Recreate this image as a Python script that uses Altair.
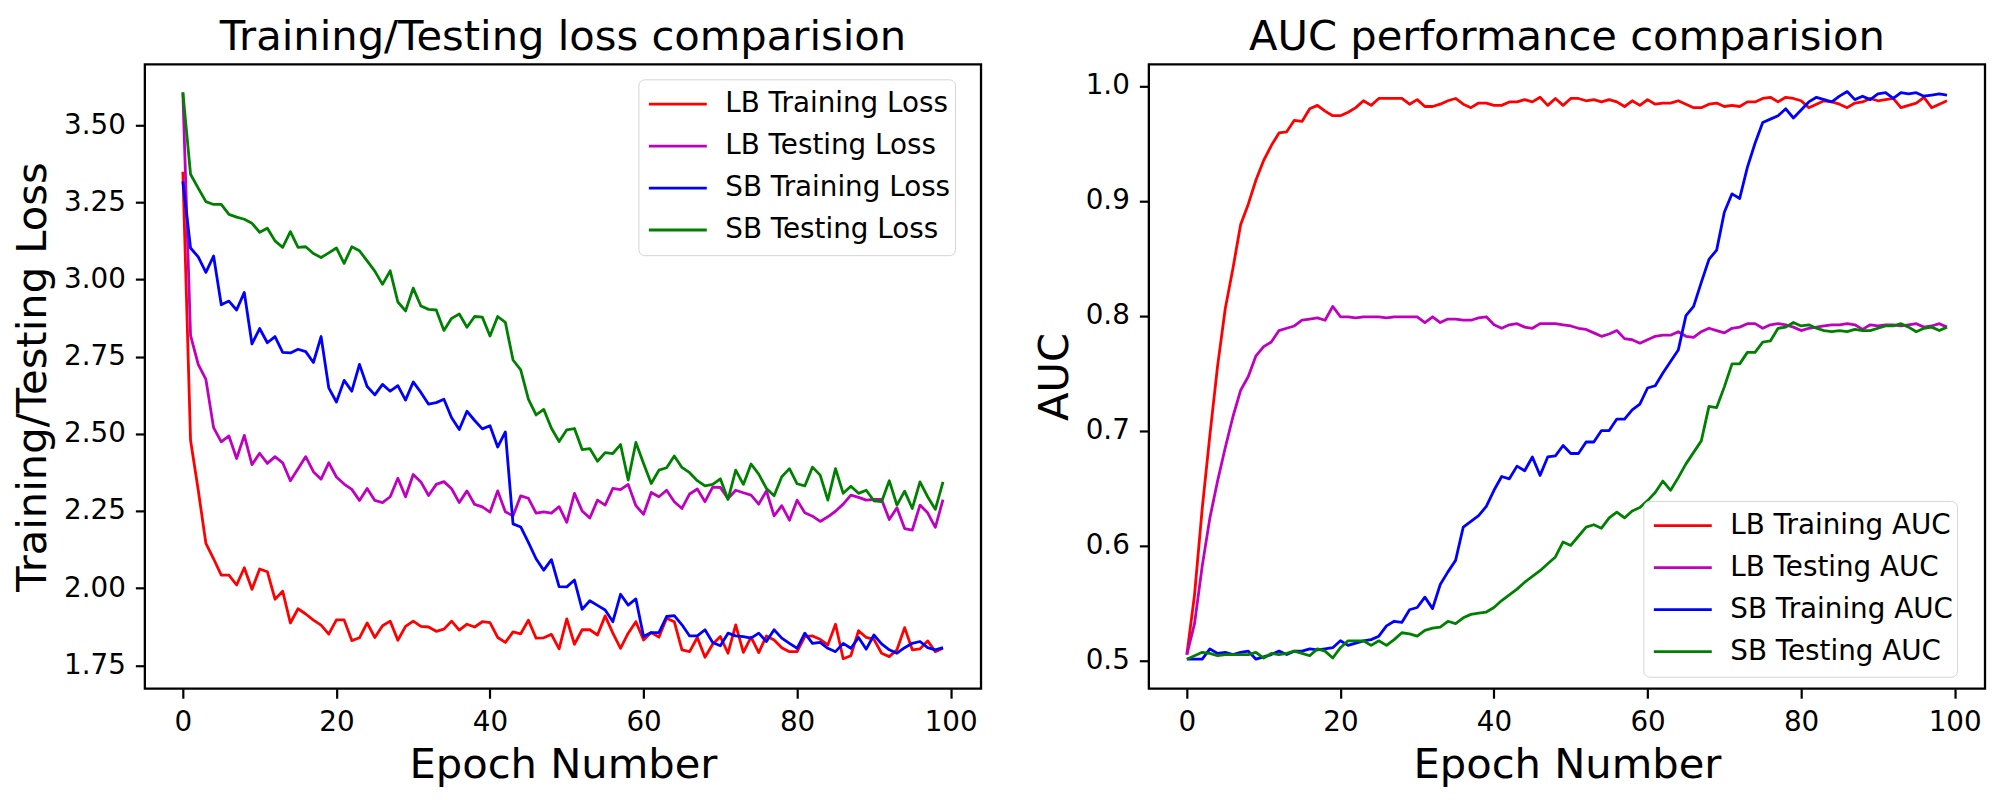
import altair as alt
import pandas as pd

FONT = "DejaVu Sans"

epochs = list(range(100))

loss_names = ["LB Training Loss", "LB Testing Loss", "SB Training Loss", "SB Testing Loss"]
auc_names = ["LB Training AUC", "LB Testing AUC", "SB Training AUC", "SB Testing AUC"]
line_colors = ["#ff0000", "#bf00bf", "#0000ff", "#008000"]

lb_train_loss = [3.349, 2.479, 2.318, 2.145, 2.095, 2.042, 2.042, 2.010, 2.066, 1.996,
                 2.062, 2.053, 1.964, 1.990, 1.887, 1.933, 1.916, 1.896, 1.880, 1.851,
                 1.897, 1.897, 1.830, 1.839, 1.887, 1.840, 1.878, 1.893, 1.831, 1.876,
                 1.893, 1.876, 1.874, 1.860, 1.867, 1.893, 1.864, 1.883, 1.874, 1.891,
                 1.888, 1.840, 1.824, 1.858, 1.852, 1.896, 1.838, 1.839, 1.850, 1.803,
                 1.900, 1.818, 1.865, 1.865, 1.848, 1.910, 1.854, 1.805, 1.854, 1.891,
                 1.832, 1.856, 1.841, 1.902, 1.891, 1.800, 1.794, 1.840, 1.776, 1.818,
                 1.843, 1.789, 1.881, 1.792, 1.841, 1.791, 1.845, 1.832, 1.807, 1.794,
                 1.794, 1.843, 1.845, 1.834, 1.816, 1.883, 1.771, 1.781, 1.862, 1.840,
                 1.834, 1.789, 1.778, 1.800, 1.872, 1.800, 1.803, 1.829, 1.794, 1.805]

lb_test_loss = [3.606, 2.819, 2.725, 2.676, 2.520, 2.474, 2.493, 2.420, 2.495, 2.400,
                2.437, 2.404, 2.426, 2.406, 2.348, 2.387, 2.426, 2.377, 2.353, 2.406,
                2.360, 2.337, 2.320, 2.284, 2.323, 2.284, 2.277, 2.296, 2.356, 2.296,
                2.368, 2.344, 2.300, 2.336, 2.345, 2.322, 2.277, 2.315, 2.271, 2.263,
                2.246, 2.315, 2.247, 2.234, 2.299, 2.291, 2.243, 2.247, 2.243, 2.264,
                2.213, 2.307, 2.250, 2.227, 2.285, 2.269, 2.323, 2.319, 2.336, 2.267,
                2.239, 2.310, 2.296, 2.317, 2.280, 2.258, 2.305, 2.321, 2.280, 2.327,
                2.326, 2.290, 2.317, 2.309, 2.301, 2.272, 2.315, 2.234, 2.267, 2.220,
                2.285, 2.244, 2.233, 2.216, 2.231, 2.249, 2.272, 2.301, 2.294, 2.285,
                2.287, 2.287, 2.222, 2.260, 2.193, 2.188, 2.269, 2.244, 2.197, 2.287]

sb_train_loss = [3.318, 3.102, 3.073, 3.023, 3.076, 2.918, 2.930, 2.901, 2.958, 2.791,
                 2.841, 2.795, 2.815, 2.764, 2.762, 2.774, 2.766, 2.731, 2.815, 2.649,
                 2.603, 2.673, 2.638, 2.725, 2.653, 2.626, 2.660, 2.638, 2.656, 2.609,
                 2.668, 2.634, 2.596, 2.601, 2.612, 2.552, 2.514, 2.573, 2.543, 2.516,
                 2.526, 2.457, 2.506, 2.208, 2.198, 2.148, 2.095, 2.058, 2.092, 2.005,
                 2.004, 2.026, 1.931, 1.959, 1.944, 1.929, 1.891, 1.980, 1.945, 1.965,
                 1.843, 1.856, 1.856, 1.908, 1.911, 1.881, 1.845, 1.845, 1.865, 1.824,
                 1.813, 1.854, 1.845, 1.843, 1.838, 1.854, 1.827, 1.865, 1.838, 1.821,
                 1.805, 1.854, 1.821, 1.824, 1.805, 1.794, 1.821, 1.805, 1.840, 1.802,
                 1.848, 1.819, 1.800, 1.789, 1.807, 1.821, 1.827, 1.807, 1.800, 1.807]

sb_test_loss = [3.606, 3.341, 3.296, 3.252, 3.243, 3.243, 3.211, 3.202, 3.195, 3.182,
                3.153, 3.166, 3.125, 3.104, 3.155, 3.104, 3.106, 3.084, 3.071, 3.086,
                3.102, 3.052, 3.106, 3.093, 3.060, 3.027, 2.984, 3.028, 2.927, 2.898,
                2.972, 2.914, 2.903, 2.901, 2.835, 2.874, 2.888, 2.845, 2.880, 2.878,
                2.817, 2.880, 2.861, 2.739, 2.707, 2.612, 2.561, 2.579, 2.518, 2.475,
                2.513, 2.517, 2.449, 2.452, 2.411, 2.439, 2.436, 2.465, 2.350, 2.472,
                2.404, 2.339, 2.382, 2.390, 2.428, 2.391, 2.374, 2.348, 2.331, 2.336,
                2.354, 2.287, 2.382, 2.336, 2.402, 2.369, 2.323, 2.299, 2.361, 2.387,
                2.338, 2.331, 2.392, 2.366, 2.285, 2.387, 2.307, 2.330, 2.307, 2.317,
                2.283, 2.280, 2.348, 2.269, 2.314, 2.258, 2.344, 2.296, 2.255, 2.344]

lb_train_auc = [0.505, 0.557, 0.632, 0.696, 0.756, 0.806, 0.841, 0.879, 0.897, 0.918,
                0.935, 0.948, 0.959, 0.960, 0.970, 0.969, 0.980, 0.983, 0.978, 0.974,
                0.974, 0.977, 0.981, 0.987, 0.983, 0.989, 0.989, 0.989, 0.989, 0.984,
                0.988, 0.982, 0.982, 0.984, 0.987, 0.989, 0.984, 0.981, 0.985, 0.985,
                0.983, 0.983, 0.986, 0.986, 0.988, 0.986, 0.990, 0.983, 0.989, 0.983,
                0.989, 0.989, 0.987, 0.988, 0.986, 0.988, 0.986, 0.982, 0.987, 0.983,
                0.988, 0.984, 0.985, 0.985, 0.987, 0.984, 0.981, 0.981, 0.984, 0.985,
                0.982, 0.983, 0.982, 0.986, 0.986, 0.989, 0.990, 0.986, 0.990, 0.989,
                0.987, 0.981, 0.984, 0.987, 0.986, 0.984, 0.981, 0.985, 0.986, 0.989,
                0.987, 0.988, 0.989, 0.981, 0.983, 0.985, 0.990, 0.981, 0.984, 0.987]

lb_test_auc = [0.505, 0.532, 0.582, 0.624, 0.656, 0.685, 0.712, 0.735, 0.747, 0.765,
               0.773, 0.777, 0.787, 0.789, 0.791, 0.796, 0.797, 0.798, 0.796, 0.808,
               0.799, 0.799, 0.798, 0.799, 0.799, 0.799, 0.798, 0.799, 0.799, 0.799,
               0.799, 0.794, 0.799, 0.794, 0.797, 0.797, 0.796, 0.796, 0.798, 0.799,
               0.792, 0.789, 0.792, 0.793, 0.790, 0.789, 0.793, 0.793, 0.793, 0.792,
               0.791, 0.789, 0.788, 0.785, 0.782, 0.784, 0.787, 0.780, 0.779, 0.776,
               0.779, 0.782, 0.783, 0.783, 0.786, 0.782, 0.781, 0.786, 0.789, 0.787,
               0.785, 0.789, 0.790, 0.793, 0.793, 0.789, 0.792, 0.793, 0.792, 0.790,
               0.787, 0.789, 0.790, 0.791, 0.792, 0.792, 0.793, 0.792, 0.788, 0.792,
               0.791, 0.792, 0.792, 0.791, 0.792, 0.793, 0.790, 0.791, 0.793, 0.790]

sb_train_auc = [0.501, 0.501, 0.501, 0.510, 0.506, 0.507, 0.505, 0.507, 0.508, 0.501,
                0.503, 0.505, 0.508, 0.505, 0.508, 0.508, 0.510, 0.509, 0.510, 0.511,
                0.517, 0.513, 0.515, 0.517, 0.518, 0.521, 0.530, 0.534, 0.533, 0.544,
                0.546, 0.555, 0.545, 0.566, 0.577, 0.587, 0.616, 0.621, 0.626, 0.634,
                0.648, 0.660, 0.658, 0.669, 0.665, 0.677, 0.661, 0.677, 0.678, 0.687,
                0.680, 0.680, 0.690, 0.690, 0.700, 0.700, 0.710, 0.710, 0.718, 0.723,
                0.737, 0.739, 0.750, 0.760, 0.770, 0.800, 0.808, 0.829, 0.849, 0.857,
                0.890, 0.906, 0.902, 0.929, 0.950, 0.968, 0.971, 0.974, 0.980, 0.972,
                0.979, 0.986, 0.990, 0.988, 0.986, 0.991, 0.995, 0.988, 0.991, 0.988,
                0.993, 0.994, 0.989, 0.994, 0.993, 0.994, 0.991, 0.992, 0.993, 0.992]

sb_test_auc = [0.501, 0.504, 0.507, 0.506, 0.504, 0.505, 0.505, 0.505, 0.505, 0.507,
               0.502, 0.506, 0.505, 0.506, 0.508, 0.506, 0.504, 0.510, 0.508, 0.502,
               0.511, 0.517, 0.517, 0.517, 0.513, 0.517, 0.513, 0.518, 0.524, 0.523,
               0.521, 0.526, 0.528, 0.529, 0.534, 0.532, 0.537, 0.540, 0.541, 0.542,
               0.546, 0.552, 0.557, 0.562, 0.568, 0.573, 0.578, 0.584, 0.590, 0.603,
               0.600, 0.608, 0.616, 0.618, 0.615, 0.624, 0.629, 0.624, 0.630, 0.633,
               0.639, 0.646, 0.656, 0.648, 0.659, 0.671, 0.681, 0.691, 0.721, 0.720,
               0.738, 0.758, 0.758, 0.768, 0.768, 0.777, 0.778, 0.789, 0.790, 0.794,
               0.791, 0.792, 0.789, 0.787, 0.786, 0.787, 0.786, 0.788, 0.787, 0.787,
               0.789, 0.791, 0.791, 0.793, 0.790, 0.786, 0.789, 0.790, 0.787, 0.790]

loss_ticks = [1.75, 2.00, 2.25, 2.50, 2.75, 3.00, 3.25, 3.50]
auc_ticks = [0.5, 0.6, 0.7, 0.8, 0.9, 1.0]
epoch_ticks = [0, 20, 40, 60, 80, 100]


def long_df(names, series):
    rows = []
    for n, s in zip(names, series):
        for e, v in zip(epochs, s):
            rows.append({"epoch": e, "value": v, "series": n})
    return pd.DataFrame(rows)


def panel(df, names, title, ytitle, ydomain, yticks, yfmt, lx, ly):
    base = alt.Chart(df).mark_line(strokeWidth=2.8, strokeJoin="round").encode(
        x=alt.X("epoch:Q",
                scale=alt.Scale(domain=[-4.95, 103.95], nice=False, zero=False),
                axis=alt.Axis(values=epoch_ticks, format="d", title="Epoch Number")),
        y=alt.Y("value:Q",
                scale=alt.Scale(domain=ydomain, nice=False, zero=False),
                axis=alt.Axis(values=yticks, format=yfmt, title=ytitle)),
        color=alt.Color("series:N",
                        scale=alt.Scale(domain=names, range=line_colors),
                        legend=alt.Legend(title=None, orient="none", legendX=lx, legendY=ly,
                                          symbolType="stroke", symbolSize=3364,
                                          symbolStrokeWidth=2.8, symbolOffset=5,
                                          labelFontSize=27.8,
                                          labelFont=FONT, labelColor="black", labelLimit=500,
                                          labelOffset=17, rowPadding=0, padding=4,
                                          clipHeight=41.7,
                                          cornerRadius=6, strokeColor="#d5d5d5",
                                          fillColor="white")),
    )
    layers = [base.transform_filter(alt.datum.series == n) for n in names]
    return alt.layer(*layers).properties(
        width=837, height=625,
        title=alt.Title(title, fontSize=41.7, font=FONT, fontWeight="normal",
                        anchor="middle", frame="group", offset=6, color="black"),
    )


left = panel(long_df(loss_names, [lb_train_loss, lb_test_loss, sb_train_loss, sb_test_loss]),
             loss_names, "Training/Testing loss comparision", "Training/Testing Loss",
             [1.674, 3.697], loss_ticks, ".2f", 494, 15)

right = panel(long_df(auc_names, [lb_train_auc, lb_test_auc, sb_train_auc, sb_test_auc]),
              auc_names, "AUC performance comparision", "AUC",
              [0.4753, 1.0187], auc_ticks, ".1f", 495, 437)

chart = alt.hconcat(left, right, spacing=168, bounds="flush").resolve_scale(
    color="independent"
).properties(
    padding={"left": 3, "top": 7, "right": 5, "bottom": 5}
).configure_view(
    stroke="black", strokeWidth=2.3
).configure_axis(
    grid=False, domain=False, tickColor="black", tickWidth=2.2, tickSize=9.5,
    labelFontSize=27.8, labelFont=FONT, labelColor="black", labelPadding=10,
    titleFontSize=41.7, titleFont=FONT, titleFontWeight="normal", titleColor="black",
    titlePadding=9
).configure_axisX(
    titlePadding=9
)

chart.save("out.html", embed_options={"renderer": "svg", "actions": False})
